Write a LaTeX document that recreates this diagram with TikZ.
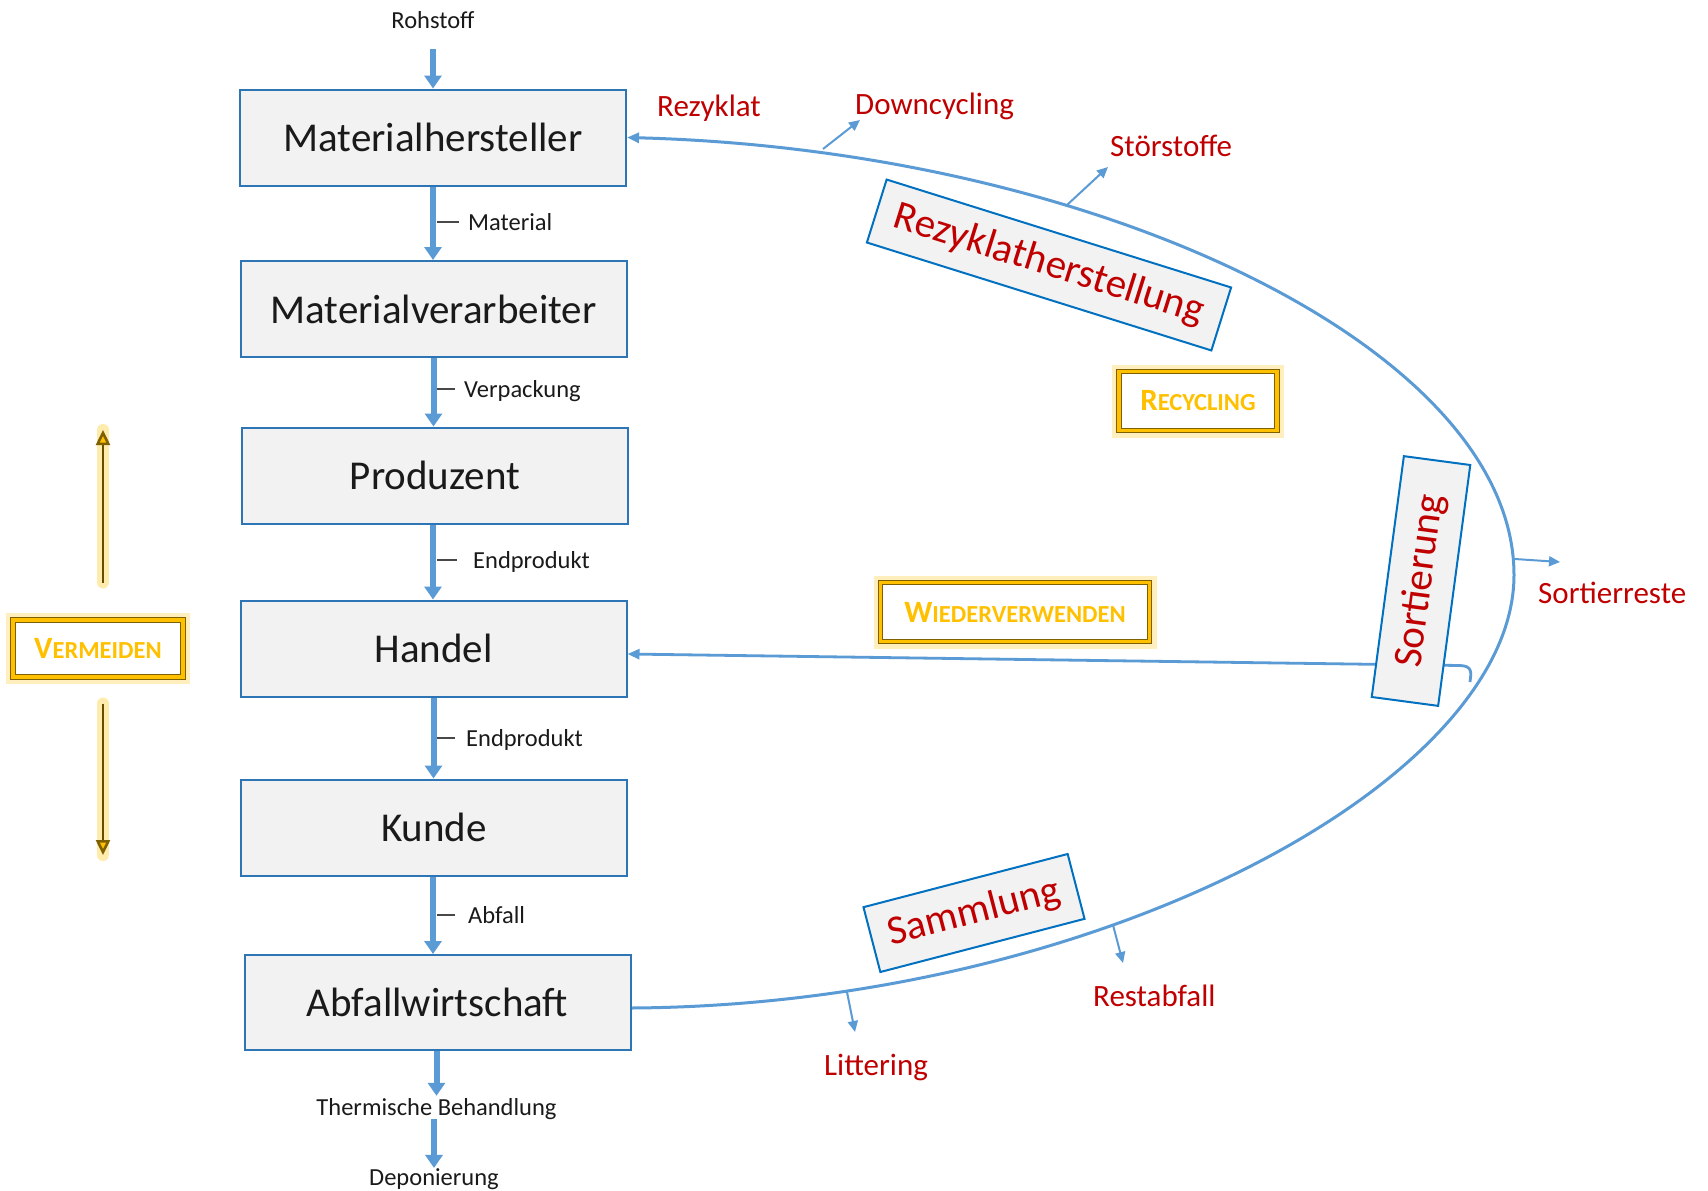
\documentclass[tikz,border=0pt]{standalone}
\usepackage{fontspec}
\setmainfont{Carlito}
\usetikzlibrary{arrows.meta,backgrounds}
\definecolor{boxblue}{HTML}{2E75B6}
\definecolor{rotblue}{HTML}{0070C0}
\definecolor{arrblue}{HTML}{5B9BD5}
\definecolor{boxfill}{HTML}{F2F2F2}
\definecolor{dred}{HTML}{C00000}
\definecolor{gold}{HTML}{FFC000}
\definecolor{darkgold}{HTML}{7F6000}
\definecolor{glow}{HTML}{FFE38A}
\definecolor{txt}{HTML}{1A1A1A}
\newcommand\fakesc[2]{{\fontsize{31}{31}\selectfont #1}{\fontsize{24.5}{24.5}\selectfont #2}}
\begin{document}
\begin{tikzpicture}[x=1pt,y=-1pt,
  mainbox/.style={draw=boxblue, line width=2pt, fill=boxfill, minimum width=386pt, minimum height=96pt, inner sep=0pt, font=\fontsize{41}{41}\selectfont, text=txt},
  rotbox/.style={draw=rotblue, line width=2pt, fill=boxfill, inner sep=0pt, font=\fontsize{41}{41}\selectfont, text=dred},
  flow/.style={draw=arrblue, line width=6pt, -{Triangle[width=17pt,length=13pt]}},
  cyc/.style={draw=arrblue, line width=3pt},
  branch/.style={draw=arrblue, line width=2pt, -{Triangle[width=10pt,length=11pt]}},
  small/.style={font=\fontsize{24.5}{24.5}\selectfont, text=txt, inner sep=0pt},
  redlbl/.style={font=\fontsize{31}{31}\selectfont, text=dred, inner sep=0pt},
  tick/.style={draw=txt!80, line width=1.2pt},
  goldbox/.style={draw=darkgold, line width=1pt, double=gold, double distance=3.5pt, fill=white, inner sep=0pt, text=gold, font=\bfseries, preaction={draw=glow, line width=14pt, opacity=0.55}},
  vglow/.style={draw=glow, line width=12pt, opacity=0.7, line cap=round},
  varrow/.style={draw=darkgold!80!black, line width=2.5pt, -{Triangle[width=14pt,length=15pt,color=darkgold,fill=gold]}}
]
\useasboundingbox (0,0) rectangle (1708,1191);

% main column boxes
\node[mainbox] (mh) at (433,137.5) {Materialhersteller};
\node[mainbox] (mv) at (433.5,309) {Materialverarbeiter};
\node[mainbox] (pr) at (435,475.5) {Produzent};
\node[mainbox] (ha) at (433.5,648.5) {Handel};
\node[mainbox] (ku) at (434,827.5) {Kunde};
\node[mainbox, minimum height=95pt] (ab) at (437.5,1002.5) {Abfallwirtschaft};

% small labels
\node[small, anchor=base] (roh) at (433,28) {Rohstoff};
\node[small, anchor=base] (th) at (436.5,1115) {Thermische Behandlung};
\node[small, anchor=base] (dep) at (434,1185) {Deponierung};
\node[small, anchor=base west] (lmat) at (468,230) {Material};
\node[small, anchor=base west] (lver) at (464,397) {Verpackung};
\node[small, anchor=base west] (lend1) at (473,568) {Endprodukt};
\node[small, anchor=base west] (lend2) at (466,746) {Endprodukt};
\node[small, anchor=base west] (labf) at (468,923) {Abfall};

% red labels
\node[redlbl, anchor=base west] (rez) at (657,116) {Rezyklat};
\node[redlbl, anchor=base west] (dcl) at (855,114) {Downcycling};
\node[redlbl, anchor=base west] (sto) at (1110,156) {Störstoffe};
\node[redlbl, anchor=base west] (srt) at (1538,603) {Sortierreste};
\node[redlbl, anchor=base west] (rab) at (1093,1006) {Restabfall};
\node[redlbl, anchor=base west] (lit) at (824,1075) {Littering};

% rotated process boxes
\node[rotbox, minimum width=361pt, minimum height=66pt, rotate=-17.4] (rzh) at (1049,265) {Rezyklatherstellung};
\node[rotbox, minimum width=243pt, minimum height=67pt, rotate=82.4] (sor) at (1421,581) {Sortierung};
\node[rotbox, minimum width=211pt, minimum height=67pt, rotate=14.6] (sam) at (974,913) {Sammlung};

% gold boxes
\node[goldbox, minimum width=158pt, minimum height=59pt] (rec) at (1198,401) {\fakesc{R}{ECYCLING}};
\node[goldbox, minimum width=269pt, minimum height=59pt] (wv) at (1015,612) {\fakesc{W}{IEDERVERWENDEN}};
\node[goldbox, minimum width=170pt, minimum height=57pt] (vm) at (98,648.5) {\fakesc{V}{ERMEIDEN}};

% coordinates
\coordinate (rp) at (1514,575);
\coordinate (dc0) at (823,149);   \coordinate (dc1) at (860,120);
\coordinate (st0) at (1067,205);  \coordinate (st1) at (1108,167);
\coordinate (sr0) at (1515,559);  \coordinate (sr1) at (1560,562);
\coordinate (ra0) at (1113,925);  \coordinate (ra1) at (1123,963);
\coordinate (li0) at (847,992);   \coordinate (li1) at (855,1032);
\coordinate (hk) at (1470,682);
\coordinate (hk1) at (1460,665.5);
\coordinate (vtop) at (103,430);
\coordinate (vbot) at (103,855);

\begin{scope}[on background layer]
\fill[white] (0,0) rectangle (1708,1191);
% main flow
\draw[flow] ([yshift=-21pt]roh.south) -- (roh.south |- mh.north);
\draw[flow] (mh.south) -- (mh.south |- mv.north);
\draw[flow] (mv.south) -- (mv.south |- pr.north);
\draw[flow] (pr.south -| mh.south) -- (mh.south |- ha.north);
\draw[flow] (ha.south) -- (ha.south |- ku.north);
\draw[flow] (ku.south -| mh.south) -- (mh.south |- ab.north);
\draw[flow] (ab.south -| th.north) -- ([yshift=2pt]th.north);
\draw[flow] (th.south -| dep.north) -- (dep.north);
% ticks
\draw[tick] ([shift={(-9pt,8pt)}]lmat.base west) -- ++(-22,0);
\draw[tick] ([shift={(-9pt,8pt)}]lver.base west) -- ++(-18,0);
\draw[tick] ([shift={(-16pt,8pt)}]lend1.base west) -- ++(-20,0);
\draw[tick] ([shift={(-11pt,8pt)}]lend2.base west) -- ++(-18,0);
\draw[tick] ([shift={(-13pt,8pt)}]labf.base west) -- ++(-18,0);
% recycling loop
\draw[cyc, -{Triangle[width=10pt,length=12pt]}] ([yshift=-5.5pt]ab.east) .. controls (1100,1005) and (1514,780) .. (rp) .. controls (1514,350) and (1100,150) .. (mh.east);
\draw[branch] (dc0) -- (dc1);
\draw[branch] (st0) -- (st1);
\draw[branch] (sr0) -- (sr1);
\draw[branch] (ra0) -- (ra1);
\draw[branch] (li0) -- (li1);
% reuse
\draw[cyc, line width=2.8pt, -{Triangle[width=10pt,length=12pt]}] (hk) .. controls (1471,673) and (1473,666) .. (hk1) -- ([yshift=-5.5pt]ha.east);
% vermeiden arrows
\draw[vglow] ([shift={(5pt,37pt)}]vm.north) -- (vtop);
\draw[vglow] ([shift={(5pt,-26pt)}]vm.south) -- (vbot);
\end{scope}
\draw[varrow] ([shift={(5pt,37pt)}]vm.north) -- (vtop);
\draw[varrow] ([shift={(5pt,-26pt)}]vm.south) -- (vbot);
\end{tikzpicture}
\end{document}
